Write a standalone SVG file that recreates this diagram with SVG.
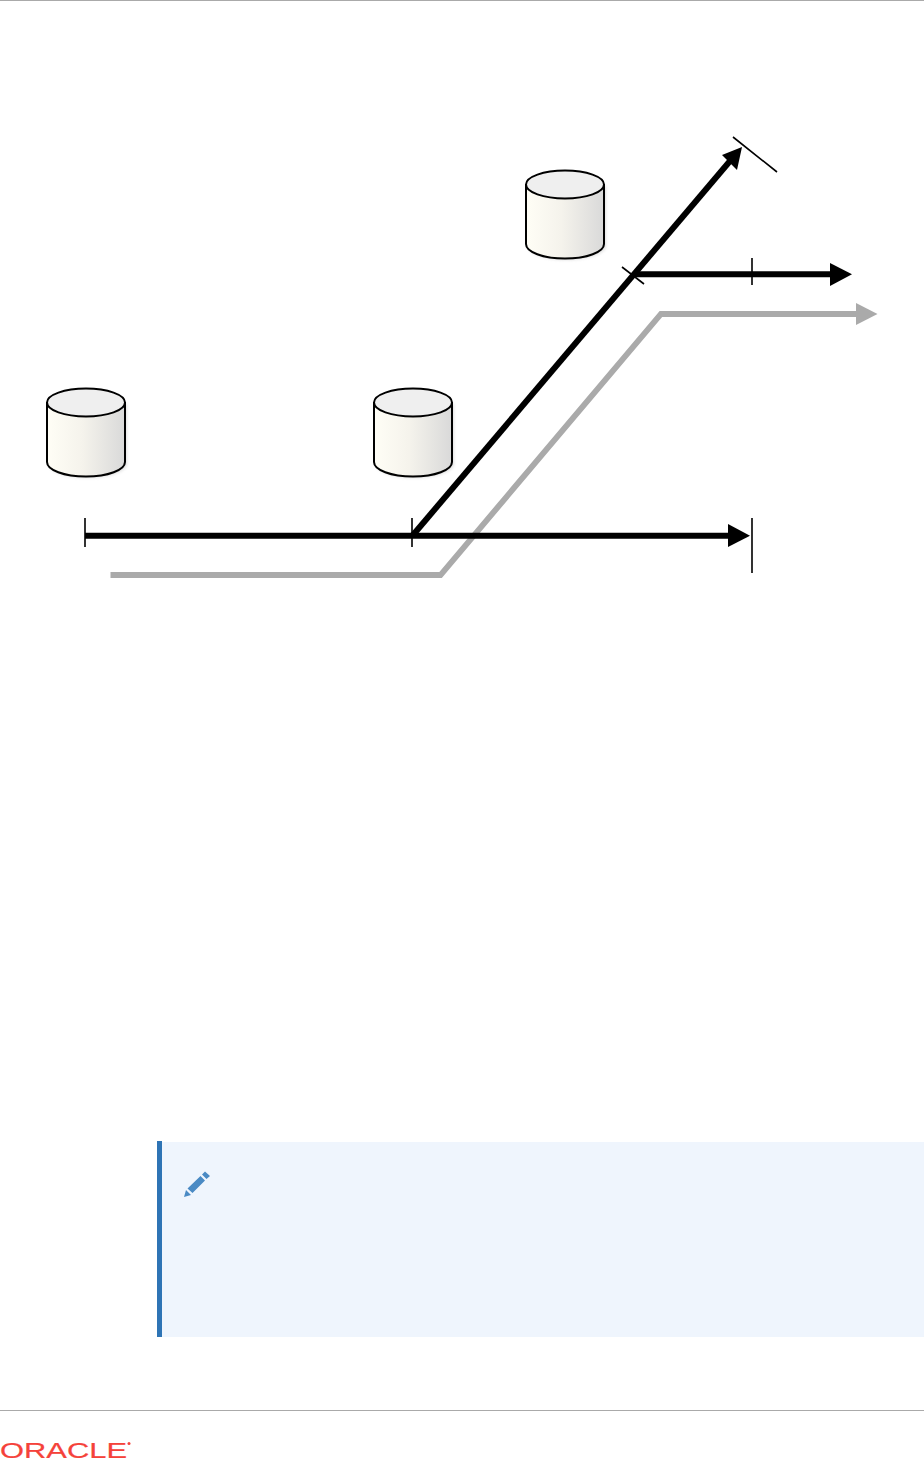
<svg xmlns="http://www.w3.org/2000/svg" width="924" height="1458" viewBox="0 0 924 1458">
<style>
.blk{fill:none;stroke:#000;stroke-width:6}
.gry{fill:none;stroke:#aaa;stroke-width:5.8}
.tick{fill:none;stroke:#000;stroke-width:1.6}
.cyl-top{fill:#efefef;stroke:#000;stroke-width:2}
.cyl-side{fill:url(#cylGrad);stroke:#000;stroke-width:2}
.cyl-shadow{fill:#999;opacity:.3;filter:url(#soft)}
</style>
<defs>
<linearGradient id="cylGrad" x1="0" x2="1" y1="0" y2="0">
<stop offset="0" stop-color="#fffef6"/><stop offset=".45" stop-color="#f5f3ec"/><stop offset="1" stop-color="#d9d9d9"/>
</linearGradient>
<filter id="soft" x="-20%" y="-20%" width="140%" height="140%"><feGaussianBlur stdDeviation="1.5"/></filter>
<g id="cyl">
<path class="cyl-shadow" d="M2 16V76C2 84 20 90 40 90S80 84 80 76V16Z"/>
<path class="cyl-side" d="M0 14V74C0 82 17 88.500 39 88.500S78 82 78 74V14"/>
<ellipse class="cyl-top" cx="39" cy="14.500" rx="39" ry="14"/>
</g>
</defs>
<rect width="924" height="1458" fill="#fff"/>
<rect id="top-rule" x="0" y="0" width="924" height="1" fill="#aaa"/>
<g id="node-db1"><use href="#cyl" x="47" y="388"/></g>
<g id="node-db2"><use href="#cyl" x="374" y="388"/></g>
<g id="node-db3"><use href="#cyl" x="526" y="170"/></g>
<g id="connectors">
<path class="gry" d="M110.500 575H440.500L661 314H858"/>
<polygon points="856,303 877.500,314 856,325" fill="#aaa"/>
<path class="blk" d="M85 535.700H730"/>
<polygon points="728,524 750,535.700 728,547" fill="#000"/>
<path class="blk" d="M413 535L730 161"/>
<polygon points="742,147 737,170 722,155" fill="#000"/>
<path class="blk" d="M634 274.300H832"/>
<polygon points="830,263 852,274.300 830,286" fill="#000"/>
<path class="tick" d="M85 518V547M412 518V547M752 518V573M752 258V285M622 267L644 284M733 137L777 172"/>
</g>
<g id="note">
<rect x="157" y="1142" width="767" height="195" fill="#eff5fd"/>
<rect x="157" y="1141" width="5" height="196" fill="#2e74b5"/>
<path fill="#4a8ac4" d="M184 1197L186 1190L191 1195ZM187.500 1188.500L200.500 1176L205 1180.500L192.500 1193ZM202 1174.500L205 1171.500L210 1176L206.500 1179Z"/>
</g>
<g id="footer">
<rect x="0" y="1410" width="924" height="1" fill="#aaa"/>
<text x="0" y="1458" font-family="'Liberation Sans',Arial,sans-serif" font-size="22" fill="#f5423a" stroke="#f5423a" stroke-width=".2" textLength="127" lengthAdjust="spacingAndGlyphs">ORACLE</text>
<circle cx="129" cy="1443.500" r="1.500" fill="#f5423a"/>
</g>
</svg>
